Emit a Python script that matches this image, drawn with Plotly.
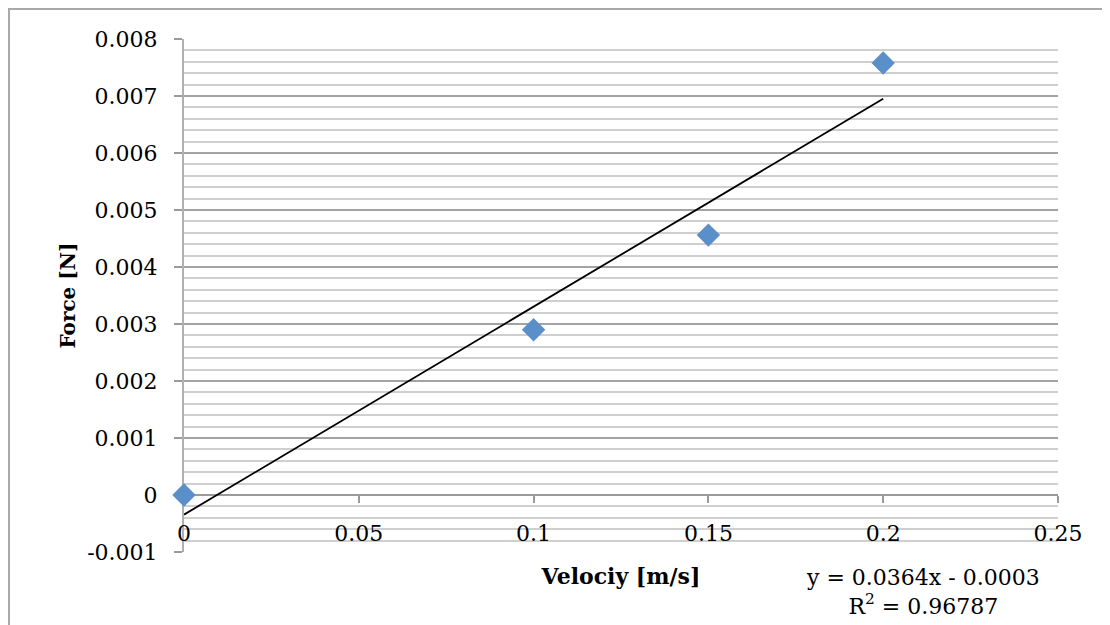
import numpy as np
import plotly.graph_objects as go

velocity = [0, 0.1, 0.15, 0.2]
force = [0.0, 0.0029, 0.00456, 0.00758]

x_ticks = [0, 0.05, 0.1, 0.15, 0.2, 0.25]
x_tick_labels = ["0", "0.05", "0.1", "0.15", "0.2", "0.25"]
y_ticks = [-0.001, 0, 0.001, 0.002, 0.003, 0.004, 0.005, 0.006, 0.007, 0.008]
y_tick_labels = ["-0.001", "0", "0.001", "0.002", "0.003", "0.004", "0.005", "0.006", "0.007", "0.008"]

trend_label = "y = 0.0364x - 0.0003<br>R<sup>2</sup> = 0.96787"

# linear trendline (least squares), drawn over the data span
slope, intercept = np.polyfit(velocity, force, 1)
fit_x = [min(velocity), max(velocity)]
fit_y = [slope * v + intercept for v in fit_x]

font = "DejaVu Serif"
y_min, y_max = -0.001, 0.008

fig = go.Figure()
fig.add_trace(go.Scatter(x=fit_x, y=fit_y, mode="lines",
                         line=dict(color="black", width=1.8), hoverinfo="skip"))
fig.add_trace(go.Scatter(x=velocity, y=force, mode="markers", cliponaxis=False,
                         marker=dict(symbol="diamond", size=18, color="#5b8fc9",
                                     line=dict(width=0))))

# page body has an 8px margin, so margins are shifted by that
fig.update_layout(
    width=1110, height=625,
    margin=dict(l=176, r=60, t=31, b=81),
    paper_bgcolor="white", plot_bgcolor="white",
    showlegend=False,
    font=dict(family=font, size=22, color="black"),
    xaxis=dict(
        range=[0, 0.25], tickmode="array", tickvals=x_ticks, ticktext=x_tick_labels,
        anchor="free", position=(0 - y_min) / (y_max - y_min),
        showgrid=False, zeroline=False, layer="below traces",
        showline=True, linecolor="#9a9a9a", linewidth=2,
        ticks="outside", ticklen=7, tickwidth=2, tickcolor="#9a9a9a",
        ticklabelstandoff=12,
        title=dict(text="<b>Velociy [m/s]</b>", font=dict(size=22), standoff=22),
        automargin=False,
    ),
    yaxis=dict(
        range=[y_min, y_max], tickmode="array", tickvals=y_ticks, ticktext=y_tick_labels,
        showgrid=True, gridcolor="#a3a3a3", gridwidth=2,
        minor=dict(dtick=0.0002, showgrid=True, gridcolor="#cfcfcf", gridwidth=2),
        zeroline=False, layer="below traces",
        showline=True, linecolor="#b0b0b0", linewidth=2,
        ticks="outside", ticklen=8, tickwidth=2, tickcolor="#9a9a9a",
        ticklabelstandoff=12,
        title=dict(text="<b>Force [N]</b>", font=dict(size=20), standoff=6),
        automargin=False,
    ),
    annotations=[dict(
        xref="paper", yref="paper", x=0.845, y=-0.078,
        xanchor="center", yanchor="middle",
        text=trend_label, showarrow=False, align="center", font=dict(size=22),
    )],
    shapes=[dict(type="rect", xref="paper", yref="paper",
                 x0=-0.2002, x1=1.0572, y0=-0.2, y1=1.0585,
                 line=dict(color="#a8a8a8", width=2), layer="below")],
)

fig.write_html("out.html")
